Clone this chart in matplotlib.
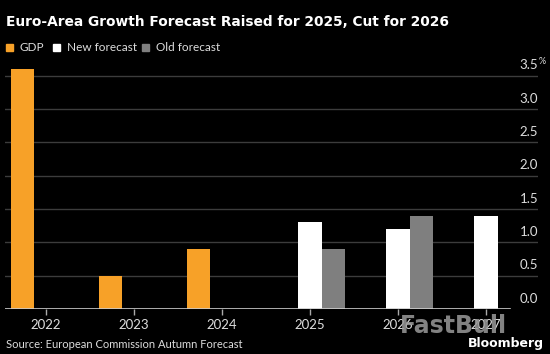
import matplotlib
matplotlib.use("Agg")
import matplotlib.pyplot as plt
import numpy as np

years = ["2022", "2023", "2024", "2025", "2026", "2027"]
gdp = [3.6, 0.5, 0.9, np.nan, np.nan, np.nan]
new_forecast = [np.nan, np.nan, np.nan, 1.3, 1.2, 1.4]
old_forecast = [np.nan, np.nan, np.nan, 0.9, 1.4, np.nan]
yticks = [0.0, 0.5, 1.0, 1.5, 2.0, 2.5, 3.0, 3.5]

W, H = 550, 354
fig = plt.figure(figsize=(W / 100, H / 100), dpi=100, facecolor="black")
cond = ["Lato", "DejaVu Sans"]

L, R, B, T = 5, 538, 309, 60
ax = fig.add_axes([L / W, (H - B) / H, (R - L) / W, (B - T) / H])
ax.set_facecolor("black")
x = np.arange(len(years))
w = 0.262
ax.bar(x - w, gdp, width=w, color="#f7a128", zorder=3)
ax.bar(x, new_forecast, width=w, color="#ffffff", zorder=3)
ax.bar(x + w, old_forecast, width=w, color="#7f7f7f", zorder=3)

x0 = (46 - L) / 88
ax.set_xlim(-x0, -x0 + (R - L) / 88)
ax.set_ylim(0, (B - T) / 66.7)
for s in ax.spines.values():
    s.set_visible(False)
ax.axhline(0, color="#cccccc", lw=1.2, zorder=4, xmax=(510 - L) / (R - L))
for v in yticks[1:]:
    ax.axhline(v, color="#3c3c3c", lw=1, zorder=1)
ax.set_yticks([])
ax.set_xticks(x)
ax.set_xticklabels(years, family=cond, fontsize=9.5, color="#dddddd")
ax.tick_params(axis="x", colors="#aaaaaa", length=4, width=1, pad=3, labelcolor="#dddddd")
for v in yticks:
    lab = f"{v:.1f}"
    ax.annotate(lab, xy=(1, v), xycoords=("axes fraction", "data"),
                xytext=(0, 3), textcoords="offset points",
                ha="right", va="bottom", fontsize=9.5, family=cond, color="#dddddd")
ax.annotate("%", xy=(1, 3.5), xycoords=("axes fraction", "data"),
            xytext=(0.5, 7), textcoords="offset points",
            ha="left", va="bottom", fontsize=6.5, family=cond, color="#dddddd")

fig.text(6 / W, 1 - 22 / H, "Euro-Area Growth Forecast Raised for 2025, Cut for 2026",
         fontsize=9.9, fontweight="bold", color="white", va="center", ha="left")

# legend
items = [("GDP", "#f7a128", 6), ("New forecast", "#ffffff", 53), ("Old forecast", "#7f7f7f", 142)]
for lab, c, px in items:
    fig.patches.append(plt.Rectangle((px / W, 1 - 51 / H), 7 / W, 7 / H,
                                     transform=fig.transFigure, color=c, figure=fig))
    fig.text((px + 14) / W, 1 - 47.5 / H, lab, fontsize=8.5, family=cond,
             color="#dddddd", va="center", ha="left")

fig.text(400 / W, 1 - 326 / H, "FastBull", fontsize=17, fontweight="bold",
         color="#9a9a9a", alpha=0.85, va="center", ha="left")
fig.text(6 / W, 1 - 344 / H, "Source: European Commission Autumn Forecast",
         fontsize=8, family=cond, color="#dddddd", va="center", ha="left")
fig.text(544 / W, 1 - 344 / H, "Bloomberg", fontsize=9, fontweight="bold",
         color="white", va="center", ha="right")

fig.savefig("out.png", dpi=100, facecolor="black")
